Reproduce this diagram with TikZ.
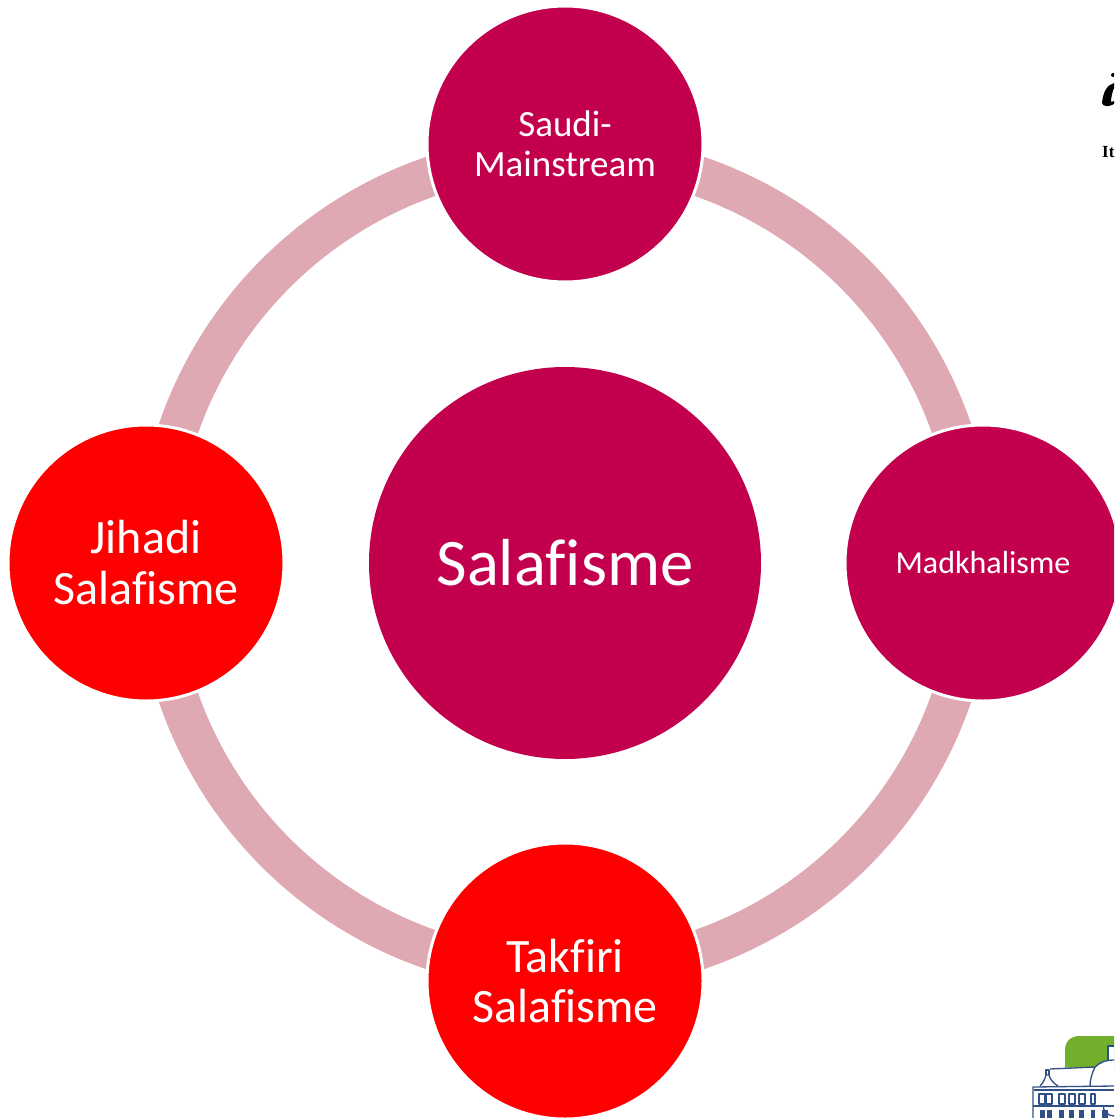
\documentclass[tikz,border=0pt]{standalone}
\usepackage{fontspec}
\setmainfont[Ligatures={NoCommon,NoContextual}]{Carlito}
\newfontfamily\logoserif{Liberation Serif}
\definecolor{crim}{HTML}{C3004E}
\definecolor{pure}{HTML}{FF0000}
\definecolor{ringc}{HTML}{DEA9B2}
\definecolor{navy}{HTML}{2F4F86}
\definecolor{leaf}{HTML}{72B02C}
\tikzset{
 every node/.style={text=white,align=center,inner sep=0pt},
 orb/.style={circle,draw=white,line width=3pt,minimum size=276pt},
 hub/.style={circle,fill=crim,minimum size=392pt},
 band/.style={draw=ringc,line width=40pt},
 bld/.style={draw=navy,line width=1.3pt,line join=round},
}
\begin{document}
\begin{tikzpicture}[x=1pt,y=-1pt]
\useasboundingbox (0,0) rectangle (1114,1118);
\clip (0,0) rectangle (1114,1118);
\coordinate (rt) at (565,154);
\coordinate (rr) at (974,563);
\coordinate (rb) at (565,972);
\coordinate (rl) at (156,563);
\draw[band] (rt) to[bend left=45] (rr);
\draw[band] (rr) to[bend left=45] (rb);
\draw[band] (rb) to[bend left=45] (rl);
\draw[band] (rl) to[bend left=45] (rt);
\node[hub,font=\fontsize{66.5}{72}\selectfont] (hub) at (565,563) {Salafisme};
\node[orb,fill=crim,font=\fontsize{37}{40}\selectfont] (top) at (565,144) {Saudi-\\Mainstream};
\node[orb,fill=crim,font=\fontsize{32}{36}\selectfont] (right) at (983,563) {Madkhalisme};
\node[orb,fill=pure,font=\fontsize{48}{50}\selectfont] (bottom) at (565,981) {Takfiri\\Salafisme};
\node[orb,fill=pure,font=\fontsize{48}{51}\selectfont] (left) at (146,563) {Jihadi\\Salafisme};
% top-right logo fragments
\fill[black] (1102,103) .. controls (1103,92) and (1107,85) .. (1114,83) -- (1114,88) .. controls (1112,93) and (1111,98) .. (1111,102) -- (1114,101) -- (1114,104) .. controls (1109,107) and (1103,107) .. (1102,103) -- cycle;
\fill[black] (1113,75) circle (2);
\node[text=black,anchor=base west,font=\logoserif\bfseries\fontsize{17}{17}\selectfont] (it) at (1102,158) {It};
% bottom-right building fragment
\fill[leaf] (1065,1068) -- (1065,1050) .. controls (1065,1041) and (1071,1036) .. (1080,1036) -- (1114,1036) -- (1114,1068) -- cycle;
\fill[white] (1033,1118) -- (1033,1086) -- (1040,1084) -- (1046,1070) -- (1050,1068) -- (1095,1067) -- (1104,1062) -- (1108,1060) -- (1108,1045) -- (1114,1045) -- (1114,1118) -- cycle;
\draw[bld] (1033,1118) -- (1033,1087) -- (1114,1086);
\draw[bld] (1034,1090) -- (1114,1090);
\draw[bld] (1040,1086) .. controls (1044,1082) and (1045,1078) .. (1046,1075) -- (1049,1075) .. controls (1050,1079) and (1053,1083) .. (1058,1086);
\draw[bld] (1046,1075) -- (1046,1070) -- (1049,1070) -- (1049,1075);
\draw[bld] (1050,1069) -- (1095,1067) .. controls (1092,1073) and (1090,1080) .. (1090,1086);
\draw[bld] (1095,1067) .. controls (1100,1062) and (1106,1060) .. (1114,1060);
\draw[bld] (1108,1060) -- (1108,1046) -- (1114,1046);
\foreach \xx/\ww in {1039/6,1046/6,1059/6,1069/6,1079/6,1091/4}
  \draw[bld] (\xx,1104) -- (\xx,1094) -- (\xx+\ww,1094) -- (\xx+\ww,1104) -- cycle;
\foreach \xx/\ww in {1040/5,1047/5,1059/5,1069/5,1079/5,1091/4,1102/6}
  \fill[navy] (\xx,1110) rectangle (\xx+\ww,1118);
\draw[bld] (1103,1105) arc[start angle=180,end angle=0,radius=11];
\draw[bld] (1033,1106) -- (1114,1106);
\end{tikzpicture}
\end{document}
